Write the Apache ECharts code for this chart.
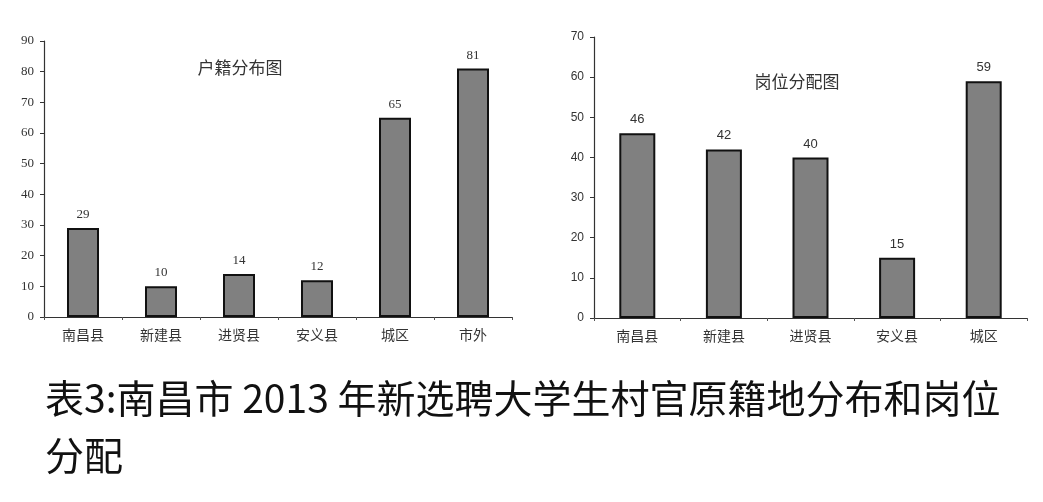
<!DOCTYPE html>
<html><head><meta charset="utf-8">
<script src="https://cdn.jsdelivr.net/npm/echarts@6/dist/echarts.min.js"></script>
<style>html,body{margin:0;padding:0;background:#fff}#c{width:1043px;height:502px}</style>
</head><body><div id="c"></div>
<script>
const leftCategories = ['南昌县','新建县','进贤县','安义县','城区','市外'];
const leftValues = [29,10,14,12,65,81];
const rightCategories = ['南昌县','新建县','进贤县','安义县','城区'];
const rightValues = [46,42,40,15,59];
const leftTitle = '户籍分布图';
const rightTitle = '岗位分配图';
const captionLine1 = '表3:南昌市 2013 年新选聘大学生村官原籍地分布和岗位';
const captionLine2 = '分配';

const chart = echarts.init(document.getElementById('c'), null, {renderer:'canvas'});
const axisLine = {lineStyle:{color:'#333', width:1.2}};
const catLabel = {color:'#333', fontSize:14, fontFamily:'Noto Sans CJK SC', margin:11};
function xAxis(idx, cats){
  return {type:'category', gridIndex:idx, data:cats, boundaryGap:true,
    axisLine, axisTick:{show:true, length:3, inside:false, lineStyle:{color:'#555'}},
    axisLabel:catLabel};
}
function yAxis(idx, max, font, size){
  return {type:'value', gridIndex:idx, min:0, max, interval:10,
    axisLine:{show:true, lineStyle:{color:'#333', width:1.2}},
    axisTick:{show:true, length:4, lineStyle:{color:'#333'}},
    splitLine:{show:false},
    axisLabel:{color:'#333', fontSize:size, fontFamily:font, margin:10}};
}
function bars(idx, vals, width, font){
  return {type:'bar', xAxisIndex:idx, yAxisIndex:idx, data:vals, barWidth:width,
    itemStyle:{color:'#808080', borderColor:'#111', borderWidth:2},
    label:{show:true, position:'top', distance:7, color:'#333', fontSize:13, fontFamily:font}};
}
chart.setOption({
  animation:false,
  backgroundColor:'#fff',
  grid:[{left:44, top:41, right:531, bottom:185},{left:594, top:37, right:16, bottom:184}],
  xAxis:[xAxis(0,leftCategories), xAxis(1,rightCategories)],
  yAxis:[yAxis(0,90,'Liberation Serif',13), yAxis(1,70,'Liberation Sans',12)],
  series:[bars(0,leftValues,32,'Liberation Serif'), bars(1,rightValues,36,'Liberation Sans')],
  title:[
    {text:leftTitle, left:235, top:63, textAlign:'center', textVerticalAlign:'middle',
      textStyle:{fontSize:17, fontWeight:'normal', color:'#333', fontFamily:'Noto Sans CJK SC'}},
    {text:rightTitle, left:792, top:77, textAlign:'center', textVerticalAlign:'middle',
      textStyle:{fontSize:17, fontWeight:'normal', color:'#333', fontFamily:'Noto Sans CJK SC'}}
  ],
  graphic:[
    {type:'text', left:45, top:379, style:{text:captionLine1, fontSize:39, fill:'#111', fontFamily:'Noto Sans CJK SC'}},
    {type:'text', left:45, top:436, style:{text:captionLine2, fontSize:39, fill:'#111', fontFamily:'Noto Sans CJK SC'}}
  ]
});
</script></body></html>
